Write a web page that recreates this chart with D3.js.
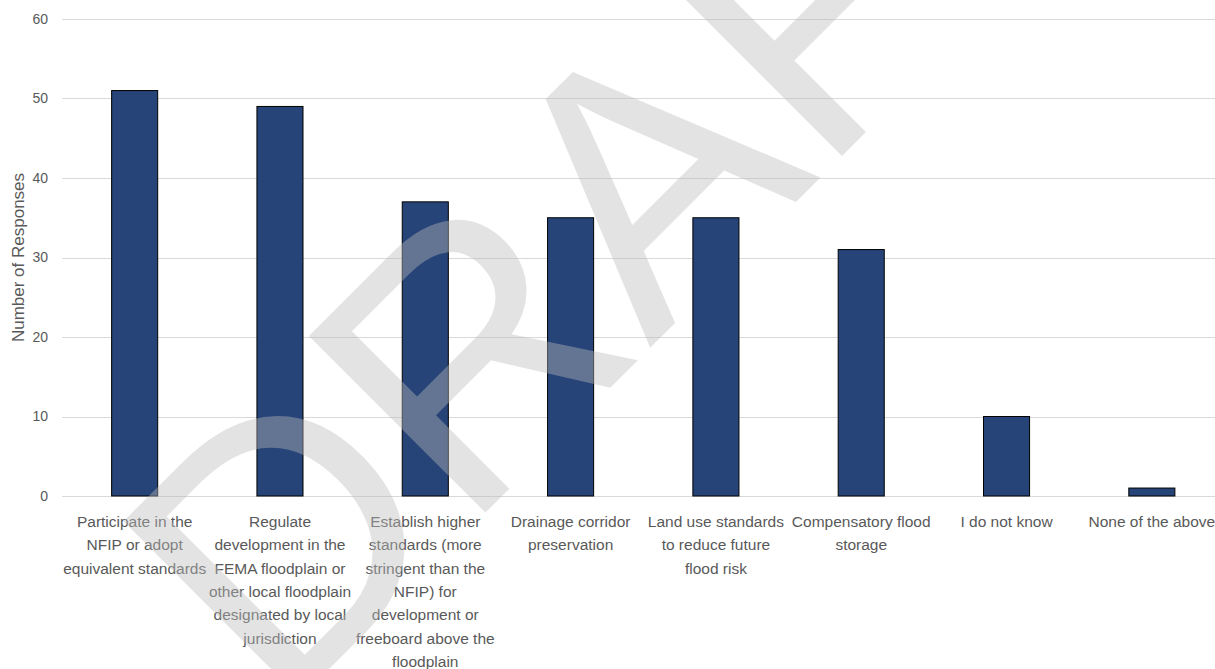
<!DOCTYPE html>
<html>
<head>
<meta charset="utf-8">
<script src="https://cdn.jsdelivr.net/npm/d3@7"></script>
<style>
  html, body { margin: 0; padding: 0; background: #fff; overflow: hidden; }
  text { font-family: "Liberation Sans", Arial, sans-serif; }
</style>
</head>
<body>
<svg id="chart" width="1215" height="669"></svg>
<script>
// Survey responses: floodplain-management practices
const categories = [
  "Participate in the\nNFIP or adopt\nequivalent standards",
  "Regulate\ndevelopment in the\nFEMA floodplain or\nother local floodplain\ndesignated by local\njurisdiction",
  "Establish higher\nstandards (more\nstringent than the\nNFIP) for\ndevelopment or\nfreeboard above the\nfloodplain",
  "Drainage corridor\npreservation",
  "Land use standards\nto reduce future\nflood risk",
  "Compensatory flood\nstorage",
  "I do not know",
  "None of the above"
];
const responses = [51, 49, 37, 35, 35, 31, 10, 1];
const yTicks = [0, 10, 20, 30, 40, 50, 60];
const yTitle = "Number of Responses";
const watermarkText = "DRAFT";

const W = 1215, H = 669;
const plot = { left: 62, right: 1224.5, top: 19, bottom: 496 };

const svg = d3.select("#chart");

const x = d3.scaleBand()
  .domain(categories)
  .range([plot.left, plot.right])
  .paddingInner(0.683)
  .paddingOuter(0.3415);

const y = d3.scaleLinear()
  .domain([0, 60])
  .range([plot.bottom, plot.top]);

// horizontal gridlines
svg.append("g")
  .selectAll("line")
  .data(yTicks)
  .join("line")
  .attr("x1", plot.left)
  .attr("x2", W)
  .attr("y1", d => Math.round(y(d)) + 0.5)
  .attr("y2", d => Math.round(y(d)) + 0.5)
  .attr("stroke", "#d9d9d9")
  .attr("stroke-width", 1);

// y-axis tick labels
const yAxis = d3.axisLeft(y).tickValues(yTicks).tickSize(0).tickPadding(0);
svg.append("g")
  .attr("transform", `translate(48,0)`)
  .call(yAxis)
  .call(g => g.select(".domain").remove())
  .call(g => g.selectAll("text")
    .attr("fill", "#595959")
    .style("font-size", "14px")
    .style("font-family", "'Liberation Sans', Arial, sans-serif"));

// y-axis title
svg.append("text")
  .attr("transform", `translate(18,${(plot.top + plot.bottom) / 2}) rotate(-90)`)
  .attr("text-anchor", "middle")
  .attr("dominant-baseline", "central")
  .attr("fill", "#595959")
  .style("font-size", "17px")
  .text(yTitle);

// bars
svg.append("g")
  .selectAll("rect")
  .data(responses)
  .join("rect")
  .attr("x", (d, i) => x(categories[i]))
  .attr("y", d => y(d))
  .attr("width", x.bandwidth())
  .attr("height", d => y(0) - y(d))
  .attr("fill", "#264478")
  .attr("stroke", "#000")
  .attr("stroke-width", 1);

// category labels, multi-line and centred under each bar
const labels = svg.append("g")
  .selectAll("text")
  .data(categories)
  .join("text")
  .attr("text-anchor", "middle")
  .attr("fill", "#595959")
  .style("font-size", "15.5px")
  .attr("transform", d => `translate(${x(d) + x.bandwidth() / 2},527)`);

labels.selectAll("tspan")
  .data(d => d.split("\n"))
  .join("tspan")
  .attr("x", 0)
  .attr("y", (d, i) => i * 23.3)
  .text(d => d);

// diagonal watermark across the whole chart
svg.append("text")
  .attr("transform", "translate(279,719) rotate(-45)")
  .attr("fill", "rgb(186,186,186)")
  .attr("fill-opacity", 0.41)
  .style("font-size", "363px")
  .style("pointer-events", "none")
  .text(watermarkText);
</script>
</body>
</html>
